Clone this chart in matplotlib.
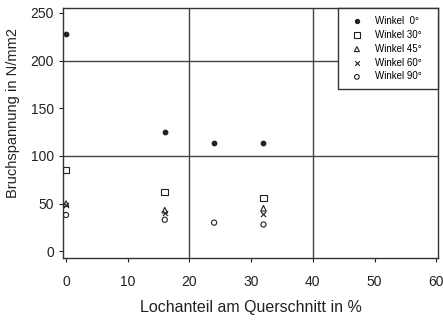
import matplotlib
matplotlib.use("Agg")
import matplotlib.pyplot as plt

plt.rcParams['font.family'] = ['Liberation Sans', 'DejaVu Sans']

# Bruchspannung (N/mm2) over Lochanteil (%) for each fibre angle
x_0 = [0, 16, 24, 32]
y_0 = [228, 125, 114, 113]
x_30 = [0, 16, 32]
y_30 = [85, 62, 56]
x_45 = [0, 16, 32]
y_45 = [50, 43, 45]
x_60 = [0, 16, 32]
y_60 = [48, 40, 39]
x_90 = [0, 16, 24, 32]
y_90 = [38, 33, 30, 28]

labels = ["Winkel  0°", "Winkel 30°", "Winkel 45°", "Winkel 60°", "Winkel 90°"]
xticks = [0, 10, 20, 30, 40, 50, 60]
yticks = [0, 50, 100, 150, 200, 250]

fig = plt.figure(figsize=(4.43, 3.24), dpi=100)
ax = fig.add_axes([0.142, 0.204, 0.847, 0.771])

c = '#222222'
ax.scatter(x_0, y_0, marker='o', s=10, color=c, label=labels[0], zorder=3)
ax.scatter(x_30, y_30, marker='s', s=22, facecolors='none', edgecolors=c, linewidths=0.8, label=labels[1], zorder=3)
ax.scatter(x_45, y_45, marker='^', s=16, facecolors='none', edgecolors=c, linewidths=0.8, label=labels[2], zorder=3)
ax.scatter(x_60, y_60, marker='x', s=14, color=c, linewidths=0.8, label=labels[3], zorder=3)
ax.scatter(x_90, y_90, marker='o', s=14, facecolors='none', edgecolors=c, linewidths=0.8, label=labels[4], zorder=3)

for yv in (100, 200):
    ax.axhline(yv, color='#444444', lw=1.0, zorder=1)
for xv in (20, 40):
    ax.axvline(xv, color='#444444', lw=1.0, zorder=1)

ax.set_xlim(-0.5, 60.3)
ax.set_ylim(-7, 255)
ax.set_xticks(xticks)
ax.set_yticks(yticks)
ax.tick_params(direction='out', length=3, width=0.8, labelsize=10, colors='#222222')
ax.tick_params(axis='x', pad=9.5)
for sp in ax.spines.values():
    sp.set_color('#333333')
    sp.set_linewidth(1.0)

ax.set_xlabel("Lochanteil am Querschnitt in %", fontsize=11.5, color='#222222', labelpad=8)
ax.set_ylabel("Bruchspannung in N/mm2", fontsize=10.5, color='#222222')
ax.yaxis.set_label_coords(-0.115, 0.58)

leg = ax.legend([h for h in ax.collections], [l + "   " for l in labels],
                loc='upper right', fontsize=7, frameon=True, fancybox=False,
                edgecolor='#333333', framealpha=1, borderpad=0.8, handlelength=2.2,
                handletextpad=0.8, labelspacing=0.4, borderaxespad=0.0, markerscale=0.9)
leg.get_frame().set_linewidth(1.0)

fig.savefig("out.png", dpi=100)
